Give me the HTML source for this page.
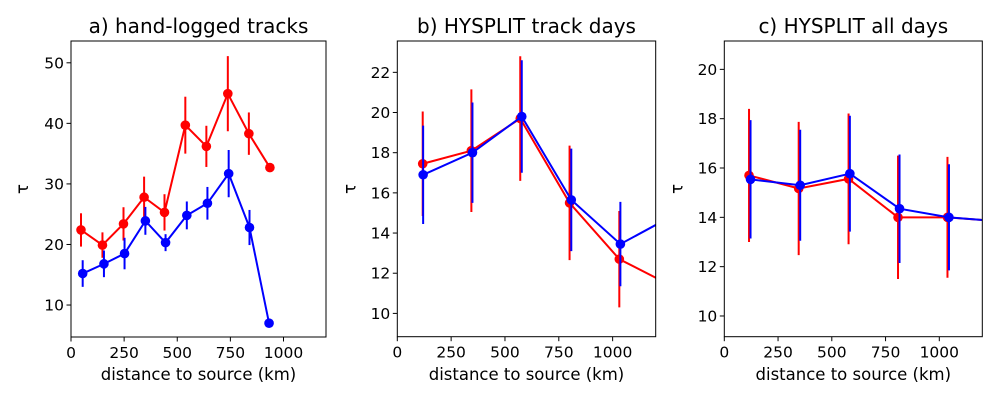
<!DOCTYPE html>
<html><head><meta charset="utf-8"><style>
html,body{margin:0;padding:0;background:#fff}
svg text{font-family:"DejaVu Sans","Liberation Sans",sans-serif;fill:#000}
</style></head><body>
<svg id="fig" width="1000" height="400" viewBox="0 0 1000 400" xmlns="http://www.w3.org/2000/svg"></svg>
<script>
// Panel a data
const aXRed = [47,148,247,344,440,538,637,738,837,936];
const aRed = [22.4,19.9,23.4,27.8,25.3,39.7,36.2,44.9,38.3,32.7];
const aRedErr = [2.75,2.1,2.75,3.4,3.0,4.7,3.4,6.2,3.5,0.7];
const aXBlue = [55,155,252,350,445,545,642,742,840,932];
const aBlue = [15.2,16.8,18.5,23.9,20.3,24.8,26.8,31.7,22.8,7.0];
const aBlueErr = [2.2,2.2,2.6,2.3,1.4,2.3,2.7,3.9,2.9,0];
// Panel b data
const bXRed = [118,344,571,800,1031,1260];
const bRed = [17.45,18.1,19.7,15.5,12.7,11.45];
const bRedErr = [2.6,3.05,3.1,2.85,2.4,0];
const bXBlue = [120,349,578,808,1036,1260];
const bBlue = [16.9,18.0,19.8,15.65,13.45,14.75];
const bBlueErr = [2.45,2.5,2.8,2.55,2.1,0];
// Panel c data
const cXRed = [115,346,578,808,1038,1260];
const cRed = [15.7,15.17,15.56,14.0,14.0,13.85];
const cRedErr = [2.7,2.7,2.65,2.5,2.45,0];
const cXBlue = [122,353,584,815,1045,1260];
const cBlue = [15.54,15.3,15.77,14.35,14.0,13.85];
const cBlueErr = [2.4,2.25,2.35,2.2,2.15,0];
// Tick labels
const xTicks = [0,250,500,750,1000];
const aYTicks = [10,20,30,40,50];
const bYTicks = [10,12,14,16,18,20,22];
const cYTicks = [10,12,14,16,18,20];

const NS = "http://www.w3.org/2000/svg";
const fig = document.getElementById('fig');
function mk(tag, attrs, parent){const e=document.createElementNS(NS,tag);for(const k in attrs)e.setAttribute(k,attrs[k]);(parent||fig).appendChild(e);return e;}

const panels = [
 {id:'a',title:'a) hand-logged tracks',L:71,R:326,T:41,B:337,ymin:4.72,ymax:53.6,yt:aYTicks,
  series:[{c:'red',x:aXRed,y:aRed,e:aRedErr,n:'hand-logged-red'},{c:'blue',x:aXBlue,y:aBlue,e:aBlueErr,n:'hand-logged-blue'}]},
 {id:'b',title:'b) HYSPLIT track days',L:397.3,R:655.7,T:41,B:336.7,ymin:8.84,ymax:23.56,yt:bYTicks,
  series:[{c:'red',x:bXRed,y:bRed,e:bRedErr,n:'track-days-red'},{c:'blue',x:bXBlue,y:bBlue,e:bBlueErr,n:'track-days-blue'}]},
 {id:'c',title:'c) HYSPLIT all days',L:724.3,R:982.3,T:41,B:336.7,ymin:9.16,ymax:21.15,yt:cYTicks,
  series:[{c:'red',x:cXRed,y:cRed,e:cRedErr,n:'all-days-red'},{c:'blue',x:cXBlue,y:cBlue,e:cBlueErr,n:'all-days-blue'}]}
];

panels.forEach(p=>{
  const g = mk('g',{});
  
  
  const xs = v => p.L + (v-0)/(1200-0)*(p.R-p.L);
  const ys = v => p.B - (v-p.ymin)/(p.ymax-p.ymin)*(p.B-p.T);
  const cid='clip'+p.id;
  const cp=mk('clipPath',{id:cid},g); mk('rect',{x:p.L,y:p.T,width:p.R-p.L,height:p.B-p.T},cp);
  const plot=mk('g',{'clip-path':'url(#'+cid+')'},g);
  p.series.forEach(s=>{
    const sg=mk('g',{},plot);
    
    
    s.x.forEach((xv,i)=>{
      if(s.e[i]>0){
        const eb=mk('line',{x1:xs(xv),x2:xs(xv),y1:ys(s.y[i]-s.e[i]),y2:ys(s.y[i]+s.e[i]),stroke:s.c,'stroke-width':2},sg);
        
        
      }
    });
    const pts=s.x.map((xv,i)=>xs(xv)+','+ys(s.y[i])).join(' ');
    const ln=mk('polyline',{points:pts,fill:'none',stroke:s.c,'stroke-width':2},sg);
    
    
    s.x.forEach((xv,i)=>{
      const c=mk('circle',{cx:xs(xv),cy:ys(s.y[i]),r:4.8,fill:s.c},sg);
      
      
    });
  });
  const fr=mk('rect',{x:p.L,y:p.T,width:p.R-p.L,height:p.B-p.T,fill:'none',stroke:'#000','stroke-width':1},g);
  
  
  xTicks.forEach(t=>{
    mk('line',{x1:xs(t),x2:xs(t),y1:p.B,y2:p.B+4.5,stroke:'#000','stroke-width':1},g);
    const tx=mk('text',{x:xs(t),y:p.B+21,'text-anchor':'middle','font-size':'15.5'},g);
    tx.textContent=t;
    
    
  });
  p.yt.forEach(t=>{
    mk('line',{x1:p.L-4.5,x2:p.L,y1:ys(t),y2:ys(t),stroke:'#000','stroke-width':1},g);
    const tx=mk('text',{x:p.L-7,y:ys(t)+5.5,'text-anchor':'end','font-size':'15.5'},g);
    tx.textContent=t;
    
    
  });
  const cx=(p.L+p.R)/2;
  const ti=mk('text',{x:cx,y:33,'text-anchor':'middle','font-size':'20'},g);
  ti.textContent=p.title;
  
  
  const xl=mk('text',{x:cx,y:380,'text-anchor':'middle','font-size':'16.5'},g);
  xl.textContent='distance to source (km)';
  
  
  const yx = p.id==='a'?28:p.L-42;
  const yl=mk('text',{x:yx,y:(p.T+p.B)/2,'text-anchor':'middle','font-size':'16.5',transform:'rotate(-90 '+yx+' '+((p.T+p.B)/2)+')'},g);
  yl.textContent='τ';
  
  
});
</script>
</body></html>
